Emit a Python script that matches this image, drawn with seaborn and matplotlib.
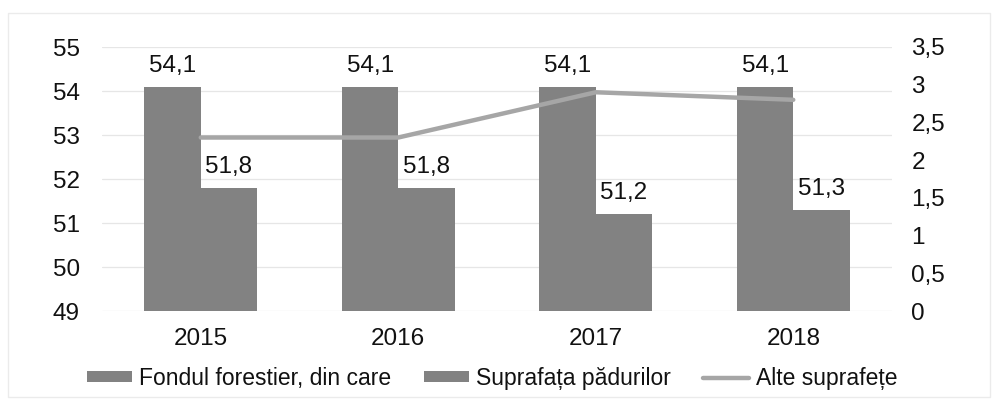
import matplotlib
matplotlib.use("Agg")
import matplotlib.pyplot as plt
import seaborn as sns
import pandas as pd
from matplotlib.patches import Patch, Rectangle
from matplotlib.lines import Line2D

years = ["2015", "2016", "2017", "2018"]
fond_forestier = [54.1, 54.1, 54.1, 54.1]
suprafata_padurilor = [51.8, 51.8, 51.2, 51.3]
alte_suprafete = [2.3, 2.3, 2.9, 2.8]
series_names = ["Fondul forestier, din care", "Suprafața pădurilor", "Alte suprafețe"]
left_ticks = [49, 50, 51, 52, 53, 54, 55]
right_ticks = [0, 0.5, 1, 1.5, 2, 2.5, 3, 3.5]
right_tick_labels = ["0", "0,5", "1", "1,5", "2", "2,5", "3", "3,5"]

sns.set_theme(style="white")
plt.rcParams["font.family"] = ["Liberation Sans", "DejaVu Sans"]

bar_color = "#828282"
line_color = "#a6a6a6"
grid_color = "#e6e6e6"
text_color = "#111111"

df = pd.DataFrame({
    "An": years * 2,
    "Valoare": fond_forestier + suprafata_padurilor,
    "Serie": [series_names[0]] * 4 + [series_names[1]] * 4,
})

fig = plt.figure(figsize=(9.96, 4.03), dpi=100)
fig.patches.append(Rectangle((8 / 996, 1 - 397 / 403), 982 / 996, 384 / 403,
                             transform=fig.transFigure, fill=False,
                             edgecolor="#ebebeb", linewidth=1.0, zorder=0))
ax = fig.add_axes([102 / 996, 1 - 311 / 403, 790 / 996, 264 / 403])

sns.barplot(data=df, x="An", y="Valoare", hue="Serie",
            palette=[bar_color, bar_color], width=0.57, gap=0,
            saturation=1, legend=False, ax=ax, zorder=2, linewidth=0)

ax.set_ylim(49, 55)
ax.set_yticks(left_ticks)
ax.set_yticklabels([str(t) for t in left_ticks])
ax.set_xlabel("")
ax.set_ylabel("")
ax.grid(axis="y", color=grid_color, linewidth=0.9, zorder=0)
ax.set_axisbelow(True)
for s in ax.spines.values():
    s.set_visible(False)
ax.tick_params(axis="y", length=0, pad=16, labelsize=17.5, labelcolor=text_color)
ax.tick_params(axis="x", length=0, pad=12, labelsize=17.5, labelcolor=text_color)

for cont in ax.containers:
    labels = [f"{v:.1f}".replace(".", ",") for v in cont.datavalues]
    ax.bar_label(cont, labels=labels, padding=7, fontsize=17.5, color=text_color)

ax2 = ax.twinx()
sns.pointplot(x=years, y=alte_suprafete, ax=ax2, color=line_color,
              marker="", linewidth=3.2, errorbar=None)
ax2.set_ylim(0, 3.5)
ax2.set_yticks(right_ticks)
ax2.set_yticklabels(right_tick_labels)
ax2.set_ylabel("")
ax2.set_xlabel("")
for s in ax2.spines.values():
    s.set_visible(False)
ax2.tick_params(axis="y", length=0, pad=14, labelsize=17.5, labelcolor=text_color)
ax2.grid(False)
ax.set_xlim(-0.5, 3.5)

handles = [
    Patch(facecolor=bar_color, edgecolor="none"),
    Patch(facecolor=bar_color, edgecolor="none"),
    Line2D([0], [0], color=line_color, linewidth=3.2),
]
fig.legend(handles, series_names, loc="center", ncol=3,
           bbox_to_anchor=(492 / 996, 1 - 378 / 403), frameon=False,
           fontsize=16.5, handlelength=2.0, handleheight=0.35,
           handletextpad=0.3, columnspacing=1.4, labelcolor=text_color)

fig.savefig("out.png", dpi=100)
